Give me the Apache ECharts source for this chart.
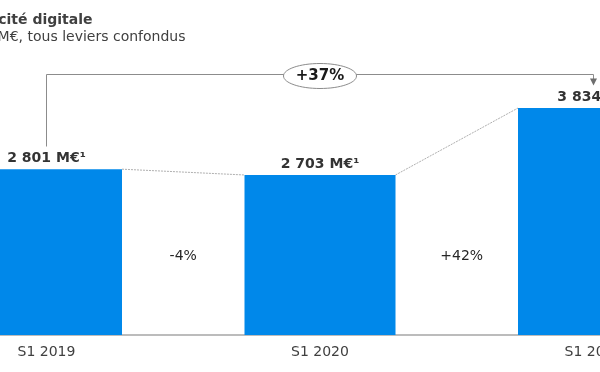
<!DOCTYPE html>
<html>
<head>
<meta charset="utf-8">
<script src="https://cdn.jsdelivr.net/npm/echarts@6/dist/echarts.min.js"></script>
<style>
html,body{margin:0;padding:0;background:#fff;}
#main{width:600px;height:372px;}
</style>
</head>
<body>
<div id="main"></div>
<script>
const categories = ['S1 2019', 'S1 2020', 'S1 2021'];
const values = [2801, 2703, 3834];
const valueLabels = ['2 801 M€¹', '2 703 M€¹', '3 834 M€'];
const changes = ['-4%', '+42%'];
const totalChange = '+37%';
const titleText = 'Publicité digitale';
const subtitleText = 'En M€, tous leviers confondus';

const FONT = 'DejaVu Sans';
const BAR_W = 151;
const chart = echarts.init(document.getElementById('main'), null, {renderer: 'canvas'});

const option = {
  animation: false,
  backgroundColor: '#ffffff',
  grid: {left: -90.25, width: 820.5, bottom: 37, height: 266.4, containLabel: false, outerBoundsMode: 'none'},
  xAxis: {
    type: 'category',
    data: categories,
    axisTick: {show: false},
    axisLine: {lineStyle: {color: '#a6a6a6', width: 1.5}},
    axisLabel: {color: '#404040', fontFamily: FONT, fontSize: 14, margin: 10}
  },
  yAxis: {
    type: 'value', min: 0, max: 4500, show: false, splitLine: {show: false}
  },
  series: [{
    type: 'bar',
    data: values.map((v, i) => ({value: v, label: {formatter: valueLabels[i]}})),
    barWidth: BAR_W,
    itemStyle: {color: '#0088ea'},
    label: {
      show: true, position: 'top', distance: 4,
      color: '#333333', fontFamily: FONT, fontSize: 14, fontWeight: 'bold'
    }
  }]
};
chart.setOption(option);

const P = (i, v) => chart.convertToPixel({xAxisIndex: 0, yAxisIndex: 0}, [categories[i], v]);
const pts = values.map((v, i) => P(i, v));
const half = BAR_W / 2;
const g = [];

// title
g.push({type: 'text', x: 92.5, y: 20, style: {text: titleText, align: 'right', verticalAlign: 'middle',
  font: 'bold 14px "DejaVu Sans"', fill: '#404040'}});
g.push({type: 'text', x: 185.5, y: 37, style: {text: subtitleText, align: 'right', verticalAlign: 'middle',
  font: '14px "DejaVu Sans"', fill: '#404040'}});

// connector lines between bar tops
for (let i = 0; i < pts.length - 1; i++) {
  g.push({type: 'line', shape: {x1: pts[i][0] + half, y1: pts[i][1], x2: pts[i + 1][0] - half, y2: pts[i + 1][1]},
    style: {stroke: '#b0b0b0', lineWidth: 1, lineDash: [2, 1]}});
}
// change labels
for (let i = 0; i < changes.length; i++) {
  const x = (pts[i][0] + half + pts[i + 1][0] - half) / 2 + (i === 1 ? 5 : 0);
  g.push({type: 'text', x: x, y: 256, style: {text: changes[i], align: 'center', verticalAlign: 'middle',
    font: '14px "DejaVu Sans"', fill: '#262626'}});
}

// bracket
const yTop = 74.5;
const x0 = pts[0][0], x2 = pts[2][0];
g.push({type: 'polyline', shape: {points: [[x0, 146.5], [x0, yTop], [x2, yTop], [x2, 79]]},
  style: {stroke: '#8c8c8c', lineWidth: 1, fill: null}});
g.push({type: 'polygon', shape: {points: [[x2 - 3.5, 78.5], [x2 + 3.5, 78.5], [x2, 85.5]]},
  style: {fill: '#6e6e6e'}});
const xm = pts[1][0];
g.push({type: 'ellipse', shape: {cx: xm, cy: 76, rx: 36.5, ry: 12.5},
  style: {fill: '#ffffff', stroke: '#8c8c8c', lineWidth: 1}});
g.push({type: 'text', x: xm, y: 76.5, style: {text: totalChange, align: 'center', verticalAlign: 'middle',
  font: 'bold 15px "DejaVu Sans"', fill: '#1a1a1a'}});

chart.setOption({graphic: g});
</script>
</body>
</html>
